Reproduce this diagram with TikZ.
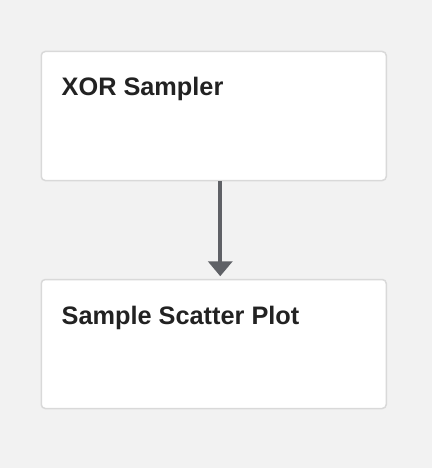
\documentclass[tikz,border=0pt]{standalone}
\usepackage{fontspec}
\setmainfont{Liberation Sans}
\usetikzlibrary{arrows.meta}
\definecolor{pagebg}{HTML}{F2F2F2}
\definecolor{cardline}{HTML}{D9D9D9}
\definecolor{flowline}{HTML}{5F6166}
\definecolor{cardtext}{HTML}{222222}
\tikzset{
  card/.style={draw=cardline, line width=1.5pt, fill=white, rounded corners=4pt,
    minimum width=345pt, minimum height=129pt, inner sep=0pt},
  cardlabel/.style={anchor=base west, inner sep=0pt, text=cardtext,
    font=\fontsize{25.3pt}{30pt}\selectfont\bfseries},
  flow/.style={draw=flowline, line width=4pt, -{Triangle[width=24pt,length=15pt]}, shorten >=2.5pt}
}
\begin{document}
\begin{tikzpicture}[x=1pt,y=-1pt]
		%%%%% BACKGROUND %%%%%
		\fill[pagebg] (0,0) rectangle (432,468);
		\useasboundingbox (0,0) rectangle (432,468);
		
		%%%%% CARDS %%%%%
		\node[card] (sampler) at (213.75,116) {};
		\node[card] (plot) at (213.75,344) {};
		
		\node[cardlabel] (samplerlabel) at ([shift={(21pt,-45pt)}]sampler.north west) {XOR Sampler};
		\node[cardlabel] (plotlabel) at ([shift={(21pt,-46pt)}]plot.north west) {Sample Scatter Plot};
		
		%%%%% FLOW %%%%%
		\draw[flow] ([xshift=6.5pt]sampler.south) -- ([xshift=6.5pt]plot.north);
		
		%%%%% END %%%%%
\end{tikzpicture}
\end{document}
